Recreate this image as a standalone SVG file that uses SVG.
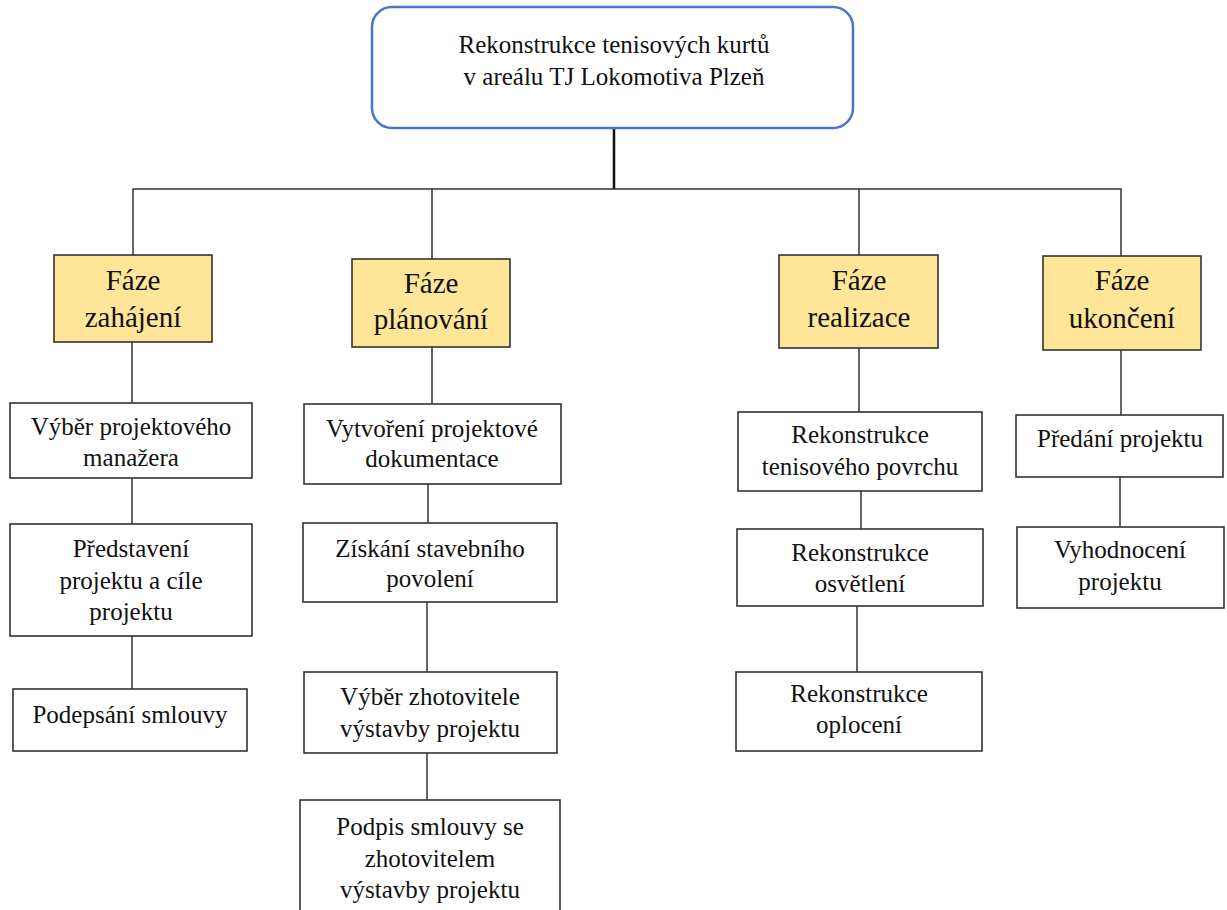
<svg xmlns="http://www.w3.org/2000/svg" width="1227" height="910" viewBox="0 0 1227 910">
<style>
.t{font-size:25px}
.f{font-size:29px}
.box{fill:#fff;stroke:#333;stroke-width:1.6}
.phase{fill:#FFE598;stroke:#333;stroke-width:1.6}
.c{stroke:#333;stroke-width:1.5;fill:none}
</style>
<rect width="1227" height="910" fill="#fff"/>
<g id="connectors">
<line x1="614" y1="128" x2="614" y2="189" stroke="#111" stroke-width="2.5"/>
<polyline class="c" points="133,255 133,189 1121,189 1121,256"/>
<line class="c" x1="432" y1="189" x2="432" y2="259"/>
<line class="c" x1="859" y1="189" x2="859" y2="255"/>
<line class="c" x1="132" y1="342" x2="132" y2="403"/>
<line class="c" x1="132" y1="478" x2="132" y2="524"/>
<line class="c" x1="132" y1="636" x2="132" y2="689"/>
<line class="c" x1="432" y1="347" x2="432" y2="404"/>
<line class="c" x1="428" y1="484" x2="428" y2="523"/>
<line class="c" x1="427" y1="602" x2="427" y2="672"/>
<line class="c" x1="427" y1="753" x2="427" y2="800"/>
<line class="c" x1="859" y1="348" x2="859" y2="412"/>
<line class="c" x1="861" y1="491" x2="861" y2="529"/>
<line class="c" x1="857" y1="606" x2="857" y2="672"/>
<line class="c" x1="1121" y1="350" x2="1121" y2="415"/>
<line class="c" x1="1120" y1="477" x2="1120" y2="527"/>
</g>
<g font-family="Liberation Serif, Times New Roman, DejaVu Serif, serif" fill="#111" text-anchor="middle">
<g id="root">
<rect x="372" y="7" width="481" height="121" rx="20" fill="#fff" stroke="#4A76C6" stroke-width="2.5"/>
<text class="t" x="614" y="53">Rekonstrukce tenisových kurtů</text>
<text class="t" x="614" y="85">v areálu TJ Lokomotiva Plzeň</text>
</g>
<g id="phase1">
<rect class="phase" x="54" y="255" width="158" height="87"/>
<text class="f" x="133" y="290">Fáze</text>
<text class="f" x="133" y="327">zahájení</text>
</g>
<g id="phase2">
<rect class="phase" x="352" y="259" width="158" height="88"/>
<text class="f" x="431" y="293">Fáze</text>
<text class="f" x="431" y="329">plánování</text>
</g>
<g id="phase3">
<rect class="phase" x="779" y="255" width="159" height="93"/>
<text class="f" x="859" y="290">Fáze</text>
<text class="f" x="859" y="327">realizace</text>
</g>
<g id="phase4">
<rect class="phase" x="1043" y="256" width="158" height="94"/>
<text class="f" x="1122" y="290">Fáze</text>
<text class="f" x="1122" y="328">ukončení</text>
</g>
<g id="n1a">
<rect class="box" x="10" y="403" width="242" height="75"/>
<text class="t" x="131" y="435">Výběr projektového</text>
<text class="t" x="131" y="466">manažera</text>
</g>
<g id="n1b">
<rect class="box" x="10" y="524" width="242" height="112"/>
<text class="t" x="131" y="557">Představení</text>
<text class="t" x="131" y="589">projektu a cíle</text>
<text class="t" x="131" y="620">projektu</text>
</g>
<g id="n1c">
<rect class="box" x="13" y="689" width="234" height="62"/>
<text class="t" x="130" y="723">Podepsání smlouvy</text>
</g>
<g id="n2a">
<rect class="box" x="304" y="404" width="257" height="80"/>
<text class="t" x="432" y="437">Vytvoření projektové</text>
<text class="t" x="432" y="467">dokumentace</text>
</g>
<g id="n2b">
<rect class="box" x="303" y="523" width="254" height="79"/>
<text class="t" x="430" y="557">Získání stavebního</text>
<text class="t" x="430" y="587">povolení</text>
</g>
<g id="n2c">
<rect class="box" x="304" y="672" width="253" height="81"/>
<text class="t" x="430" y="705">Výběr zhotovitele</text>
<text class="t" x="430" y="737">výstavby projektu</text>
</g>
<g id="n2d">
<rect class="box" x="300" y="800" width="260" height="130"/>
<text class="t" x="430" y="835">Podpis smlouvy se</text>
<text class="t" x="430" y="867">zhotovitelem</text>
<text class="t" x="430" y="898">výstavby projektu</text>
</g>
<g id="n3a">
<rect class="box" x="738" y="412" width="244" height="79"/>
<text class="t" x="860" y="443">Rekonstrukce</text>
<text class="t" x="860" y="475">tenisového povrchu</text>
</g>
<g id="n3b">
<rect class="box" x="737" y="529" width="246" height="77"/>
<text class="t" x="860" y="561">Rekonstrukce</text>
<text class="t" x="860" y="592">osvětlení</text>
</g>
<g id="n3c">
<rect class="box" x="736" y="672" width="246" height="79"/>
<text class="t" x="859" y="702">Rekonstrukce</text>
<text class="t" x="859" y="733">oplocení</text>
</g>
<g id="n4a">
<rect class="box" x="1016" y="415" width="207" height="62"/>
<text class="t" x="1120" y="447">Předání projektu</text>
</g>
<g id="n4b">
<rect class="box" x="1017" y="527" width="207" height="81"/>
<text class="t" x="1120" y="558">Vyhodnocení</text>
<text class="t" x="1120" y="590">projektu</text>
</g>
</g>
</svg>
